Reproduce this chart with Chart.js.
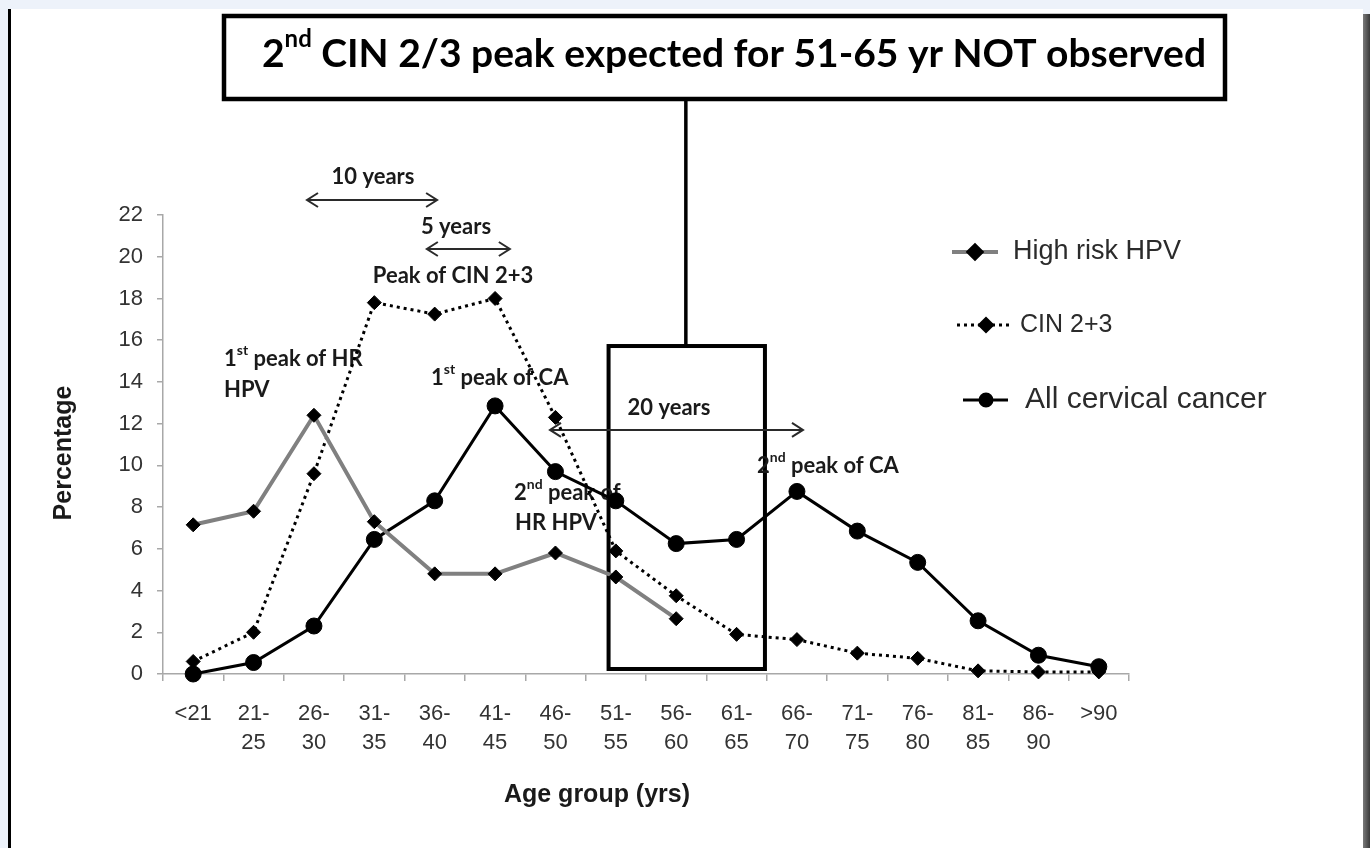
<!DOCTYPE html>
<html>
<head>
<meta charset="utf-8">
<script src="https://cdn.jsdelivr.net/npm/chart.js@4.4.1/dist/chart.umd.min.js"></script>
<style>
  html, body { margin: 0; padding: 0; width: 1370px; height: 848px; overflow: hidden; background: #edf2fa; }
  #panel { position: absolute; left: 8px; top: 9px; width: 1355px; height: 839px; background: #fff; border-left: 3.5px solid #000; box-sizing: border-box; }
  #shade { position: absolute; left: 1363px; top: 14px; width: 7px; height: 834px; background: linear-gradient(to right, #7a7a7a, #3a3a3a); }
  canvas { position: absolute; left: 0; top: 0; }
</style>
</head>
<body>
<div id="panel"></div>
<div id="shade"></div>
<canvas id="chart" width="1370" height="848"></canvas>
<script>
// age groups (x axis), two-line labels like the original
const ageGroups = [['<21'], ['21-', '25'], ['26-', '30'], ['31-', '35'], ['36-', '40'], ['41-', '45'],
  ['46-', '50'], ['51-', '55'], ['56-', '60'], ['61-', '65'], ['66-', '70'], ['71-', '75'],
  ['76-', '80'], ['81-', '85'], ['86-', '90'], ['>90']];

// percentages
const highRiskHPV = [7.15, 7.8, 12.4, 7.3, 4.8, 4.8, 5.8, 4.65, 2.65, null, null, null, null, null, null, null];
const cin23 = [0.6, 2.0, 9.6, 17.8, 17.25, 18.0, 12.3, 5.9, 3.75, 1.9, 1.65, 1.0, 0.75, 0.15, 0.1, 0.1];
const allCancer = [0, 0.55, 2.3, 6.45, 8.3, 12.85, 9.7, 8.3, 6.25, 6.45, 8.75, 6.85, 5.35, 2.55, 0.9, 0.35];

const seriesNames = ['High risk HPV', 'CIN 2+3', 'All cervical cancer'];
const yMin = 0, yMax = 22, yStep = 2;

const SANS = '"Liberation Sans", Arial, sans-serif';
const NOTE = 'Lato, "Open Sans", sans-serif';

// text with optional superscript pieces: parts = [[text, isSup], ...]
function rich(ctx, parts, x, y, size, align, color) {
  ctx.save();
  ctx.fillStyle = color || '#1a1a1a';
  ctx.textBaseline = 'middle';
  ctx.textAlign = 'left';
  const fontFor = sup => 'bold ' + (sup ? Math.round(size * 0.62) : size) + 'px ' + NOTE;
  let w = 0;
  parts.forEach(([t, sup]) => { ctx.font = fontFor(sup); w += ctx.measureText(t).width; });
  let cx = align === 'center' ? x - w / 2 : x;
  parts.forEach(([t, sup]) => {
    ctx.font = fontFor(sup);
    ctx.fillText(t, cx, sup ? y - size * 0.38 : y);
    cx += ctx.measureText(t).width;
  });
  ctx.restore();
}

function arrow(ctx, x1, x2, y) {
  ctx.save();
  ctx.strokeStyle = '#2a2a2a';
  ctx.lineWidth = 2;
  ctx.beginPath();
  ctx.moveTo(x1, y); ctx.lineTo(x2, y);
  ctx.moveTo(x1 + 11, y - 7); ctx.lineTo(x1, y); ctx.lineTo(x1 + 11, y + 7);
  ctx.moveTo(x2 - 11, y - 7); ctx.lineTo(x2, y); ctx.lineTo(x2 - 11, y + 7);
  ctx.stroke();
  ctx.restore();
}

const notes = {
  id: 'notes',
  beforeDatasetsDraw(chart) {
    const { ctx } = chart;
    const X = v => chart.scales.x.getPixelForValue(v);
    const Y = v => chart.scales.y.getPixelForValue(v);

    // headline box
    ctx.save();
    ctx.strokeStyle = '#000';
    ctx.lineWidth = 4.5;
    ctx.strokeRect(224, 16, 1001, 83);
    // fit headline to its width in the figure
    ctx.font = 'bold 40px ' + NOTE;
    const tw = ctx.measureText('2').width + ctx.measureText('nd').width * 0.62 +
      ctx.measureText(' CIN 2/3 peak expected for 51-65 yr NOT observed').width;
    const hs = Math.round(40 * 948 / tw);
    ctx.restore();
    rich(ctx, [['2', false], ['nd', true], [' CIN 2/3 peak expected for 51-65 yr NOT observed', false]], 262, 54, hs, 'left', '#000');

    // box around 51-65 and its connector
    ctx.save();
    ctx.strokeStyle = '#000';
    ctx.lineWidth = 4;
    ctx.strokeRect(X(6.88), Y(15.72), X(9.47) - X(6.88), Y(0.24) - Y(15.72));
    ctx.lineWidth = 3.5;
    ctx.beginPath();
    ctx.moveTo(X(8.16), 100);
    ctx.lineTo(X(8.16), Y(15.72));
    ctx.stroke();
    ctx.restore();

    // interval arrows
    arrow(ctx, X(1.885), X(4.04), Y(22.72));
    arrow(ctx, X(3.87), X(5.245), Y(20.37));
    arrow(ctx, X(5.91), X(10.1), Y(11.7));

    // labels
    rich(ctx, [['10 years', false]], 373, 177, 22, 'center');
    rich(ctx, [['5 years', false]], 456, 227, 22, 'center');
    rich(ctx, [['Peak of CIN 2+3', false]], 453, 276, 22, 'center');
    rich(ctx, [['1', false], ['st', true], [' peak of HR', false]], 224, 359, 22, 'left');
    rich(ctx, [['HPV', false]], 224, 390, 22, 'left');
    rich(ctx, [['1', false], ['st', true], [' peak of CA', false]], 431, 378, 22, 'left');
    rich(ctx, [['20 years', false]], 669, 408, 22, 'center');
    rich(ctx, [['2', false], ['nd', true], [' peak of', false]], 514, 493, 22, 'left');
    rich(ctx, [['HR HPV', false]], 515, 523, 22, 'left');
    rich(ctx, [['2', false], ['nd', true], [' peak of CA', false]], 757, 466, 22, 'left');

    // axis titles
    ctx.save();
    ctx.fillStyle = '#1a1a1a';
    ctx.font = 'bold 25px ' + SANS;
    ctx.textAlign = 'center';
    ctx.textBaseline = 'middle';
    ctx.fillText('Age group (yrs)', 597, 795);
    ctx.translate(64, 453);
    ctx.rotate(-Math.PI / 2);
    ctx.font = 'bold 25px ' + SANS;
    ctx.fillText('Percentage', 0, 0);
    ctx.restore();
  },
  afterDraw(chart) {
    // legend at the right, drawn from the dataset styles
    const { ctx } = chart;
    const rows = [
      { i: 0, y: 252, x1: 952, x2: 998, mx: 975, tx: 1013, size: 27 },
      { i: 1, y: 325, x1: 957, x2: 1012, mx: 986, tx: 1020, size: 25 },
      { i: 2, y: 400, x1: 963, x2: 1008, mx: 986, tx: 1025, size: 30 }
    ];
    rows.forEach(r => {
      const ds = chart.data.datasets[r.i];
      ctx.save();
      ctx.strokeStyle = ds.borderColor;
      ctx.lineWidth = ds.borderWidth;
      ctx.setLineDash(ds.borderDash || []);
      ctx.beginPath();
      ctx.moveTo(r.x1, r.y); ctx.lineTo(r.x2, r.y);
      ctx.stroke();
      ctx.setLineDash([]);
      ctx.fillStyle = '#000';
      ctx.strokeStyle = '#000';
      Chart.helpers.drawPoint(ctx, { pointStyle: ds.pointStyle, radius: ds.pointStyle === 'circle' ? 6 : 6.5, rotation: 0, borderWidth: 1 }, r.mx, r.y);
      ctx.fillStyle = '#2b2b2b';
      ctx.font = r.size + 'px ' + SANS;
      ctx.textBaseline = 'middle';
      ctx.fillText(seriesNames[r.i], r.tx, r.y);
      ctx.restore();
    });
  }
};

const axisGray = '#a8a8a8';
const tickFont = { family: SANS, size: 22, lineHeight: 1.32 };

new Chart(document.getElementById('chart'), {
  type: 'line',
  data: {
    labels: ageGroups,
    datasets: [
      {
        label: seriesNames[0], data: highRiskHPV,
        borderColor: '#808080', borderWidth: 4,
        pointStyle: 'rectRot', pointRadius: 7, pointBackgroundColor: '#000', pointBorderColor: '#000', pointBorderWidth: 1,
        spanGaps: false, clip: false
      },
      {
        label: seriesNames[1], data: cin23,
        borderColor: '#000', borderWidth: 3, borderDash: [3, 4], borderCapStyle: 'butt',
        pointStyle: 'rectRot', pointRadius: 7, pointBackgroundColor: '#000', pointBorderColor: '#000', pointBorderWidth: 1,
        clip: false
      },
      {
        label: seriesNames[2], data: allCancer,
        borderColor: '#000', borderWidth: 3,
        pointStyle: 'circle', pointRadius: 8, pointBackgroundColor: '#000', pointBorderColor: '#000', pointBorderWidth: 1,
        clip: false
      }
    ]
  },
  options: {
    responsive: false,
    animation: false,
    layout: { padding: { left: 0, top: 215, right: 241, bottom: 0 } },
    plugins: { legend: { display: false }, title: { display: false }, tooltip: { enabled: false } },
    scales: {
      x: {
        offset: true,
        grid: { offset: true, drawOnChartArea: false, drawTicks: true, tickLength: 7, color: axisGray, lineWidth: 1.5 },
        border: { color: axisGray, width: 1.5 },
        ticks: { color: '#333', font: tickFont, padding: 18, maxRotation: 0, autoSkip: false },
        afterFit: s => { s.height = 174; }
      },
      y: {
        min: yMin, max: yMax,
        grid: { drawOnChartArea: false, drawTicks: true, tickLength: 6, color: axisGray, lineWidth: 1.5 },
        border: { color: axisGray, width: 1.5 },
        ticks: { stepSize: yStep, color: '#333', font: { family: SANS, size: 22 }, padding: 14 },
        afterFit: s => { s.width = 163; }
      }
    }
  },
  plugins: [notes]
});
</script>
</body>
</html>
